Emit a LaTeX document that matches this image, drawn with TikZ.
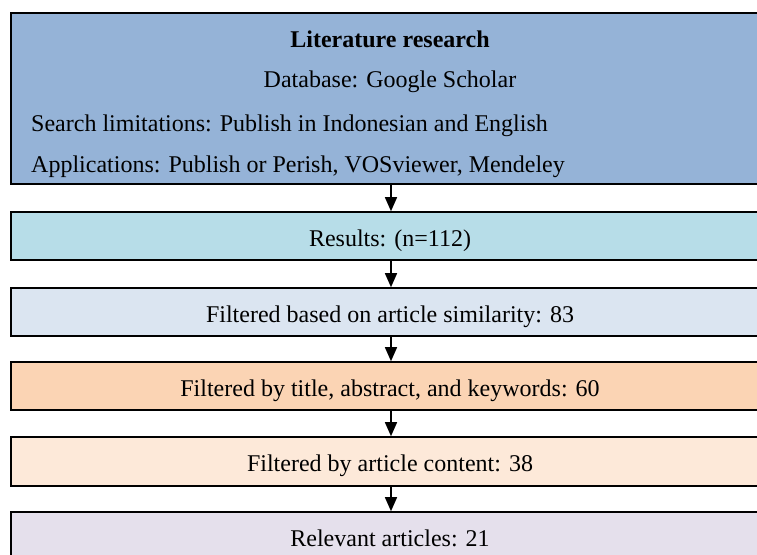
\documentclass[tikz,border=0pt]{standalone}
\usepackage{fontspec}
\setmainfont{Liberation Serif}
\usetikzlibrary{arrows.meta}
\definecolor{cTop}{RGB}{149,179,215}
\definecolor{cRes}{RGB}{183,221,232}
\definecolor{cSim}{RGB}{219,229,241}
\definecolor{cOra}{RGB}{251,212,180}
\definecolor{cCre}{RGB}{253,233,217}
\definecolor{cLav}{RGB}{229,224,236}
\tikzset{
  box/.style={draw=black, line width=1.6pt, minimum width=760pt, inner sep=0pt, text height=20pt, text depth=0pt, font=\fontsize{24}{28}\selectfont},
  txt/.style={inner sep=0pt, anchor=base, font=\fontsize{24}{28}\selectfont},
  arr/.style={line width=1.5pt, -{Triangle[width=12pt,length=14pt]}}
}
\begin{document}
\begin{tikzpicture}[x=1pt,y=-1pt]
\useasboundingbox (0,0) rectangle (757,554);
\begin{scope}
\clip (0,0) rectangle (757,554);
\node[box, fill=cTop, minimum height=171pt] (top) at (391,98.5) {};
\node[box, fill=cRes, minimum height=48pt] (res) at (391,236) {\hspace*{-2pt}Results: (n=112)};
\node[box, fill=cSim, minimum height=48pt] (sim) at (391,312) {\hspace*{-2pt}Filtered based on article similarity: 83};
\node[box, fill=cOra, minimum height=48pt] (tak) at (391,386) {\hspace*{-2pt}Filtered by title, abstract, and keywords: 60};
\node[box, fill=cCre, minimum height=49pt] (con) at (391,461.5) {\hspace*{-2pt}Filtered by article content: 38};
\node[box, fill=cLav, minimum height=48pt] (rel) at (391,536) {\hspace*{-2pt}Relevant articles: 21};
\end{scope}
\node[txt, font=\fontsize{24}{28}\selectfont\bfseries] (lit) at (390,47) {Literature research};
\node[txt] (db) at (390,87) {Database: Google Scholar};
\node[txt, anchor=base west] (sl) at (31,131) {Search limitations: Publish in Indonesian and English};
\node[txt, anchor=base west] (app) at (31,172) {Applications: Publish or Perish, VOSviewer, Mendeley};
\draw[arr] (top.south) -- (res.north);
\draw[arr] (res.south) -- (sim.north);
\draw[arr] (sim.south) -- (tak.north);
\draw[arr] (tak.south) -- (con.north);
\draw[arr] (con.south) -- (rel.north);
\end{tikzpicture}
\end{document}
